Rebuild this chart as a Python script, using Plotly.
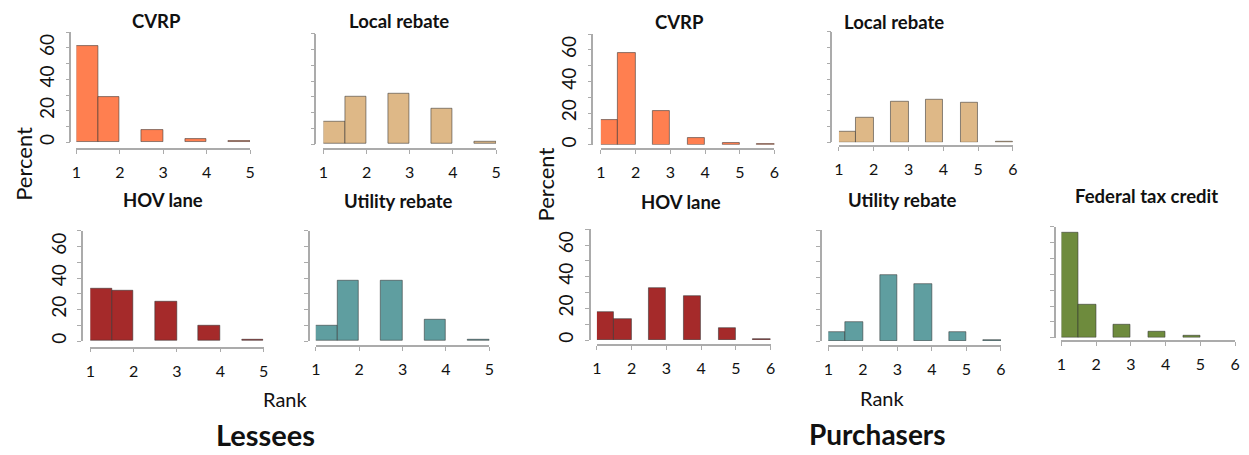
import plotly.graph_objects as go

W, H = 1249, 455

# ---------------- data ----------------
lessee_ranks = [1, 2, 3, 4, 5]
purchaser_ranks = [1, 2, 3, 4, 5, 6]

lessee_cvrp = [61, 29, 8, 2, 0.5]
lessee_local = [14, 30, 32, 22.5, 1.5]
lessee_hov = [33, 32, 25, 9.5, 1]
lessee_utility = [10, 38.5, 38.5, 13.3, 0.7]

purch_cvrp = [15.3, 58.3, 21, 4.2, 1, 0.2]
purch_local = [7, 15.4, 26, 27.2, 25.3, 0.6]
purch_hov = [17.3, 13.4, 32.8, 28, 7.5, 0.5]
purch_utility = [5.8, 11.9, 41.5, 35.8, 5.4, 0.3]
purch_federal = [66.5, 20.5, 8.4, 3.8, 1.3, 0]

y_tick_vals = [0, 10, 20, 30, 40, 50, 60, 70]
y_tick_text = ["0", "", "20", "", "40", "", "60", ""]

# ---------------- style ----------------
FONT = "Lato"
C_CVRP = "#FF7F50"
C_LOCAL = "#DEB887"
C_HOV = "#A52A2A"
C_UTIL = "#5F9EA0"
C_FED = "#6E8B3D"
AXIS_COL = "#ababab"


def px_x(v):
    return v / W


def px_y(v):
    return 1 - v / H


# panel geometry in pixels:
# (title, ranks, values, color, yaxis_line_x, y_zero_px, y_top_px, x_left, x_right, xaxis_line_y,
#  title_x, title_y, show_y_labels)
panels = [
    ("CVRP", lessee_ranks, lessee_cvrp, C_CVRP, 66, 143.3, 32.3, 72, 247, 150, 153, 20.7, True),
    ("Local rebate", lessee_ranks, lessee_local, C_LOCAL, 313, 145, 34, 321, 495, 150, 397, 20.7, False),
    ("CVRP", purchaser_ranks, purch_cvrp, C_CVRP, 592, 145.7, 34.3, 600.7, 775.7, 150, 680, 21.7, True),
    ("Local rebate", purchaser_ranks, purch_local, C_LOCAL, 833, 143.3, 32, 840.7, 1016, 147, 896, 21.7, False),
    ("HOV lane", lessee_ranks, lessee_hov, C_HOV, 77.7, 343.3, 232.3, 86, 260.7, 350, 159, 201.7, True),
    ("Utility rebate", lessee_ranks, lessee_utility, C_UTIL, 306, 343.3, 232.3, 313.3, 488.3, 348.3, 396, 202.7, False),
    ("HOV lane", purchaser_ranks, purch_hov, C_HOV, 589.3, 342.3, 230.7, 596.7, 771.7, 347.3, 681.5, 203.3, True),
    ("Utility rebate", purchaser_ranks, purch_utility, C_UTIL, 822.3, 343.3, 231.7, 830, 1004, 348.3, 904.7, 201.7, False),
    ("Federal tax credit", purchaser_ranks, purch_federal, C_FED, 1058.3, 340, 228.3, 1065, 1240, 343.3, 1151, 197.3, False),
]

fig = go.Figure()
annotations = []

for i, (title, ranks, vals, col, yx, y0, y70, xl, xr, xly, tx, ty, showy) in enumerate(panels, start=1):
    # R hist bins of width 0.5: rank 1 -> [1,1.5], rank r>1 -> [r-0.5, r]
    lefts = [1.0 if r == 1 else r - 0.5 for r in ranks]
    centers = [l + 0.25 for l in lefts]
    xa = "x" if i == 1 else f"x{i}"
    ya = "y" if i == 1 else f"y{i}"
    fig.add_trace(go.Bar(
        x=centers, y=vals, width=[0.5] * len(vals),
        marker=dict(color=col, line=dict(color="rgba(50,50,50,0.55)",
                                         width=[1 if v > 0 else 0 for v in vals])),
        xaxis=xa, yaxis=ya, showlegend=False, hoverinfo="skip",
    ))
    xkey = "xaxis" if i == 1 else f"xaxis{i}"
    ykey = "yaxis" if i == 1 else f"yaxis{i}"
    fig.layout[xkey] = dict(
        domain=[px_x(xl), px_x(xr)], range=[ranks[0], ranks[-1]],
        anchor="free", position=px_y(xly),
        tickvals=ranks, ticktext=[str(r) for r in ranks],
        showline=True, linecolor=AXIS_COL, linewidth=1.5,
        ticks="outside", ticklen=4, tickcolor=AXIS_COL, tickwidth=1,
        showgrid=False, zeroline=False, fixedrange=True,
        tickfont=dict(family=FONT, size=16, color="#111"),
        ticklabelstandoff=5,
    )
    fig.layout[ykey] = dict(
        domain=[px_y(y0), px_y(y70)], range=[0, 70],
        anchor="free", position=px_x(yx),
        tickvals=y_tick_vals, ticktext=y_tick_text if showy else [""] * len(y_tick_vals),
        showline=True, linecolor=AXIS_COL, linewidth=1.5,
        ticks="outside", ticklen=4, tickcolor=AXIS_COL, tickwidth=1,
        showgrid=False, zeroline=False, fixedrange=True,
        tickangle=-90,
        tickfont=dict(family=FONT, size=19, color="#111"),
        ticklabelstandoff=4,
    )
    annotations.append(dict(
        x=px_x(tx), y=px_y(ty), xref="paper", yref="paper",
        text=f"<b>{title}</b>", showarrow=False, xanchor="center", yanchor="middle",
        font=dict(family=FONT, size=18.5, color="#111"),
    ))

# axis titles and group labels
for text, x, y, size, angle, bold in [
    ("Percent", 19, 165, 22, -90, False),
    ("Percent", 545, 186, 22, -90, False),
    ("Rank", 282.5, 401.7, 20, 0, False),
    ("Rank", 884, 401, 20, 0, False),
    ("Lessees", 263, 437.5, 29, 0, True),
    ("Purchasers", 880, 437, 28, 0, True),
]:
    annotations.append(dict(
        x=px_x(x), y=px_y(y), xref="paper", yref="paper",
        text=f"<b>{text}</b>" if bold else text, showarrow=False,
        xanchor="center", yanchor="middle", textangle=angle,
        font=dict(family=FONT, size=size, color="#111"),
    ))

fig.update_layout(
    width=W, height=H,
    margin=dict(l=0, r=0, t=0, b=0),
    paper_bgcolor="white", plot_bgcolor="white",
    bargap=0,
    annotations=annotations,
    showlegend=False,
)

fig.write_html(
    "out.html",
    config={"displayModeBar": False},
    post_script="document.body.style.margin='0px';document.body.style.padding='0px';",
)
